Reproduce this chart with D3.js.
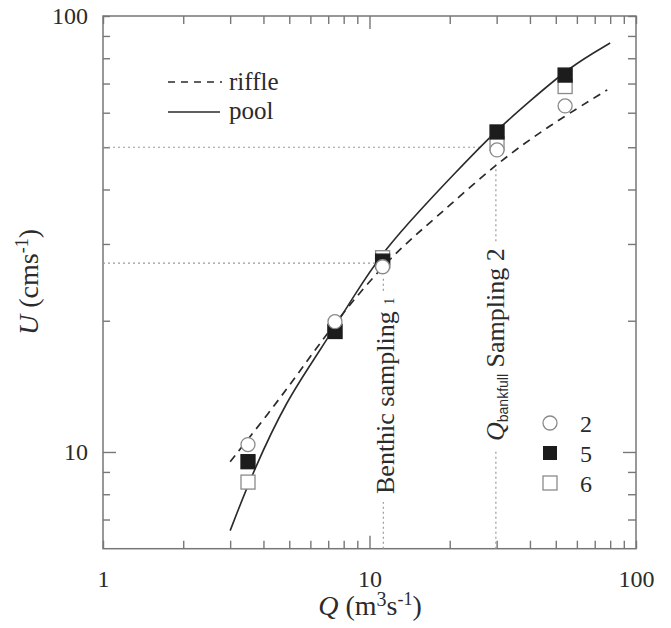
<!DOCTYPE html>
<html>
<head>
<meta charset="utf-8">
<script src="https://cdn.jsdelivr.net/npm/d3@7"></script>
<style>
  body { margin: 0; background: #fff; }
  svg { display: block; }
</style>
</head>
<body>
<div id="chart"></div>
<script>
'use strict';

// tick values
var qTicks = [1,2,3,4,5,6,7,8,9,10,20,30,40,50,60,70,80,90,100];
var uTicks = [7,8,9,10,20,30,40,50,60,70,80,90,100];
var qLabels = [1, 10, 100];
var uLabels = [10, 100];

// fitted curves
var riffleQ = [3, 4.2, 5.6, 7.4, 11.9, 17.9, 30, 47.6, 78];
var riffleU = [9.5, 12.3, 15.6, 19.8, 28.0, 34.6, 46, 56.2, 67.7];
var poolQ = [3, 3.65, 4.9, 6.5, 9, 11.4, 15.5, 20.6, 30, 40, 56.5, 80];
var poolU = [6.6, 9.0, 13.2, 17.0, 23.5, 29.1, 35.9, 43.2, 54.8, 63.8, 76.5, 86.7];

// measured points, sites 2, 5, 6
var sampleQ = [3.5, 7.42, 11.2, 30.1, 54.2];
var u2 = [10.4, 19.9, 26.6, 49.3, 62.2];
var u5 = [9.5, 18.9, 27.4, 54.2, 73.2];
var u6 = [8.53, 18.9, 27.9, 51.0, 68.9];
var sites = ['2', '5', '6'];

// reference (dotted) lines
var refU = [27.1, 50];
var refUEndQ = [10.95, 26.7];
var refQ = [11.27, 29.8];
var refQTopU = [25.2, 45.9];

var width = 671, height = 628;
var plotLeft = 103, plotRight = 636, plotTop = 16, plotBottom = 548.7;
var serif = '"Liberation Serif", "Times New Roman", serif';
var ink = '#2b2b2b';

var svg = d3.select('#chart').append('svg')
    .attr('width', width)
    .attr('height', height)
    .style('font-family', serif);

var x = d3.scaleLog().domain([1, 100]).range([plotLeft, plotRight]);
var y = d3.scaleLog().domain([6, 100]).range([plotBottom, plotTop]);

var axisColor = '#777';
function isMajor(d) { return d === 10; }

function styleAxis(g) {
    g.attr('font-family', null).style('font-family', serif).attr('font-size', 24);
    g.select('.domain').remove();
    g.selectAll('.tick line').attr('stroke', axisColor).attr('stroke-width', 1.4);
    g.selectAll('.tick text').attr('fill', ink);
}

// bottom
svg.append('g')
    .attr('transform', 'translate(0,' + plotBottom + ')')
    .call(d3.axisBottom(x).tickValues(qTicks).tickSize(-8).tickSizeOuter(0).tickPadding(21)
        .tickFormat(function(d){ return qLabels.indexOf(d) >= 0 ? d : ''; }))
    .call(styleAxis)
    .selectAll('.tick line').filter(isMajor).attr('y2', -13);

// top
svg.append('g')
    .attr('transform', 'translate(0,' + plotTop + ')')
    .call(d3.axisTop(x).tickValues(qTicks).tickSize(-8).tickSizeOuter(0).tickFormat(''))
    .call(styleAxis)
    .selectAll('.tick line').filter(isMajor).attr('y2', 13);

// left
svg.append('g')
    .attr('transform', 'translate(' + plotLeft + ',0)')
    .call(d3.axisLeft(y).tickValues(uTicks).tickSize(-7).tickSizeOuter(0).tickPadding(15)
        .tickFormat(function(d){ return uLabels.indexOf(d) >= 0 ? d : ''; }))
    .call(styleAxis)
    .selectAll('.tick line').filter(isMajor).attr('x2', 13);

// right
svg.append('g')
    .attr('transform', 'translate(' + plotRight + ',0)')
    .call(d3.axisRight(y).tickValues(uTicks).tickSize(-8).tickSizeOuter(0).tickFormat(''))
    .call(styleAxis)
    .selectAll('.tick line').filter(isMajor).attr('x2', -13);

// frame
svg.append('rect')
    .attr('x', plotLeft).attr('y', plotTop)
    .attr('width', plotRight - plotLeft).attr('height', plotBottom - plotTop)
    .attr('fill', 'none').attr('stroke', axisColor).attr('stroke-width', 1.5);

// dotted reference lines
var dotted = svg.append('g')
    .attr('stroke', '#9a9a9a').attr('stroke-width', 1.2).attr('stroke-dasharray', '2,3').attr('fill', 'none');

refU.forEach(function(u, i){
    dotted.append('line')
        .attr('x1', x(1)).attr('x2', x(refUEndQ[i]))
        .attr('y1', y(u)).attr('y2', y(u));
});

// vertical labels
var labels = svg.append('g').attr('fill', ink);
var lab1 = labels.append('text')
    .attr('transform', 'translate(394,494) rotate(-90)')
    .attr('font-size', 26);
lab1.append('tspan').text('Benthic sampling ');
lab1.append('tspan').attr('font-size', 14).text('1');

var lab2 = labels.append('text')
    .attr('transform', 'translate(504,441) rotate(-90)')
    .attr('font-size', 26);
lab2.append('tspan').attr('font-style', 'italic').text('Q');
lab2.append('tspan').attr('dy', 4).attr('font-size', 14)
    .style('font-family', '"Liberation Sans", Arial, sans-serif').text('bankfull');
lab2.append('tspan').attr('dy', -4).text(' Sampling 2');

[[lab1, 494], [lab2, 441]].forEach(function(p, i){
    var len = p[0].node().getComputedTextLength();
    var xq = x(refQ[i]);
    dotted.append('line')
        .attr('x1', xq).attr('x2', xq)
        .attr('y1', plotBottom).attr('y2', p[1] + 8);
    dotted.append('line')
        .attr('x1', xq).attr('x2', xq)
        .attr('y1', p[1] - len - 7).attr('y2', y(refQTopU[i]));
});

// curves
var line = d3.line()
    .x(function(d){ return x(d[0]); })
    .y(function(d){ return y(d[1]); })
    .curve(d3.curveBasis);

svg.append('path')
    .datum(riffleQ.map(function(q, i){ return [q, riffleU[i]]; }))
    .attr('d', line)
    .attr('fill', 'none').attr('stroke', '#2a2a2a').attr('stroke-width', 1.7)
    .attr('stroke-dasharray', '8,6');

svg.append('path')
    .datum(poolQ.map(function(q, i){ return [q, poolU[i]]; }))
    .attr('d', line)
    .attr('fill', 'none').attr('stroke', '#2a2a2a').attr('stroke-width', 1.6);

// markers
var sq = 14, rad = 7;
function drawSquares(vals, fill, stroke) {
    svg.append('g').selectAll('rect')
        .data(vals)
        .join('rect')
        .attr('x', function(d, i){ return x(sampleQ[i]) - sq / 2; })
        .attr('y', function(d){ return y(d) - sq / 2; })
        .attr('width', sq).attr('height', sq)
        .attr('fill', fill).attr('stroke', stroke).attr('stroke-width', 1.3);
}
drawSquares(u6, '#fff', '#8a8a8a');
drawSquares(u5, '#1c1c1c', '#1c1c1c');
svg.append('g').selectAll('circle')
    .data(u2)
    .join('circle')
    .attr('cx', function(d, i){ return x(sampleQ[i]); })
    .attr('cy', function(d){ return y(d); })
    .attr('r', rad)
    .attr('fill', '#fff').attr('stroke', '#8a8a8a').attr('stroke-width', 1.3);

// line legend
var lg = svg.append('g').attr('fill', ink).attr('font-size', 25);
lg.append('line').attr('x1', 168).attr('x2', 222).attr('y1', 82).attr('y2', 82)
    .attr('stroke', '#2a2a2a').attr('stroke-width', 1.5).attr('stroke-dasharray', '7,6');
lg.append('line').attr('x1', 168).attr('x2', 220).attr('y1', 112).attr('y2', 112)
    .attr('stroke', '#2a2a2a').attr('stroke-width', 1.6);
lg.append('text').attr('x', 229).attr('y', 90).text('riffle');
lg.append('text').attr('x', 229).attr('y', 119).text('pool');

// site legend
var sg = svg.append('g').attr('fill', ink).attr('font-size', 24);
var legY = [423, 453, 483];
sg.append('circle').attr('cx', 550).attr('cy', legY[0]).attr('r', rad)
    .attr('fill', '#fff').attr('stroke', '#8a8a8a').attr('stroke-width', 1.3);
sg.append('rect').attr('x', 550 - sq / 2).attr('y', legY[1] - sq / 2).attr('width', sq).attr('height', sq)
    .attr('fill', '#1c1c1c');
sg.append('rect').attr('x', 550 - sq / 2).attr('y', legY[2] - sq / 2).attr('width', sq).attr('height', sq)
    .attr('fill', '#fff').attr('stroke', '#8a8a8a').attr('stroke-width', 1.3);
sg.selectAll('text')
    .data(sites)
    .join('text')
    .attr('x', 580)
    .attr('y', function(d, i){ return legY[i] + 9; })
    .text(function(d){ return d; });

// axis titles
var xt = svg.append('text')
    .attr('x', 370).attr('y', 615)
    .attr('text-anchor', 'middle')
    .attr('fill', ink)
    .attr('font-size', 28);
xt.append('tspan').attr('font-style', 'italic').text('Q');
xt.append('tspan').text(' (m');
xt.append('tspan').attr('dy', -9).attr('font-size', 20).text('3');
xt.append('tspan').attr('dy', 9).text('s');
xt.append('tspan').attr('dy', -10).attr('font-size', 18).text('-1');
xt.append('tspan').attr('dy', 10).text(')');

var yt = svg.append('text')
    .attr('transform', 'translate(38,282) rotate(-90)')
    .attr('text-anchor', 'middle')
    .attr('fill', ink)
    .attr('font-size', 28);
yt.append('tspan').attr('font-style', 'italic').text('U');
yt.append('tspan').text(' (cms');
yt.append('tspan').attr('dy', -10).attr('font-size', 18).text('-1');
yt.append('tspan').attr('dy', 10).text(')');
</script>
</body>
</html>
